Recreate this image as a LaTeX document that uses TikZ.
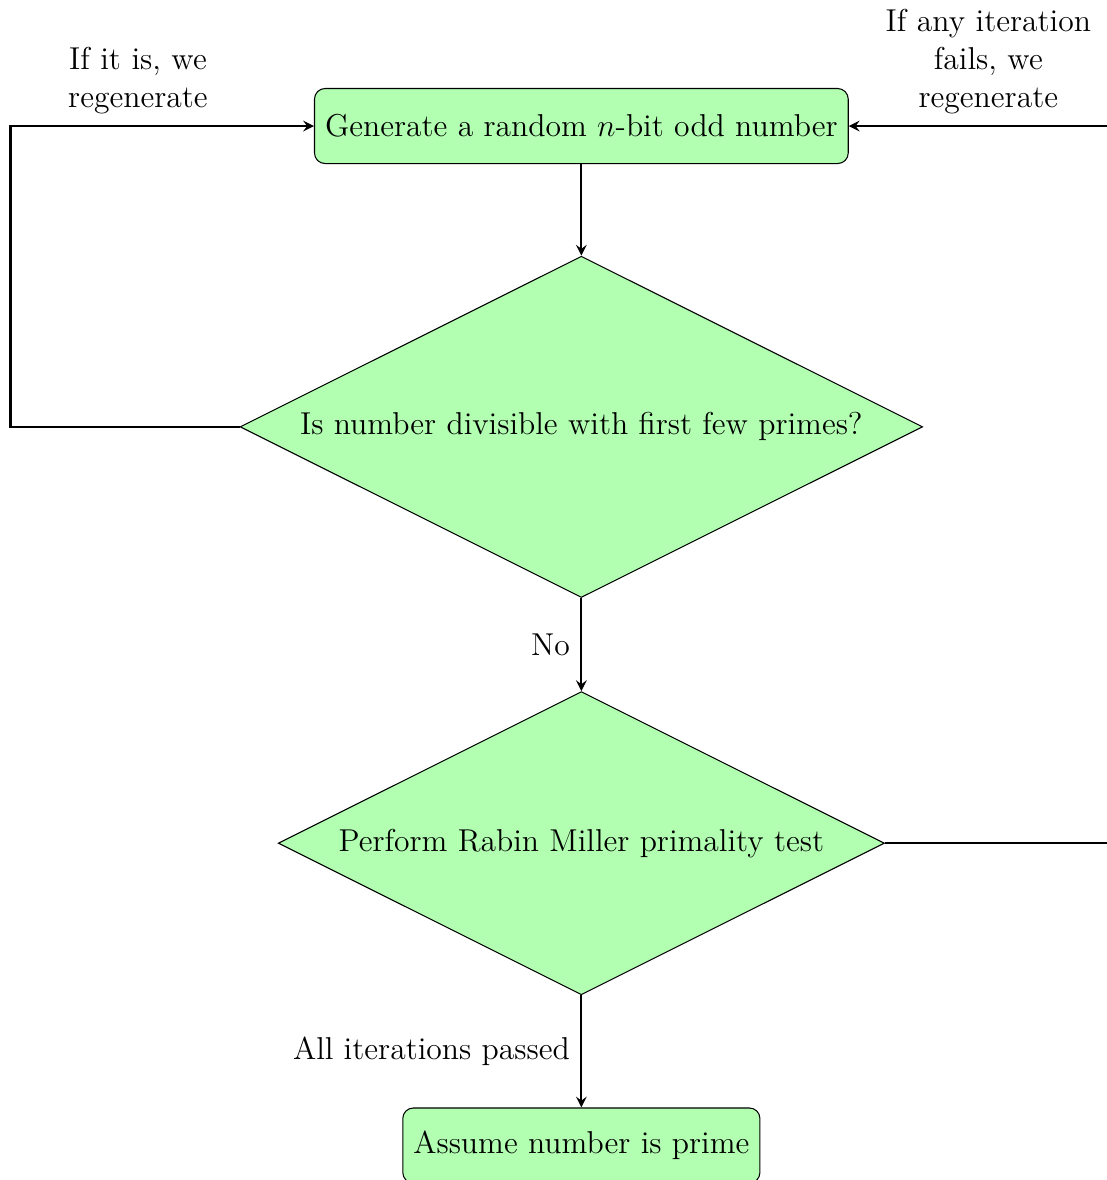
\documentclass[tikz,border=0pt,12pt]{standalone}
\usepackage{tikz}
\usetikzlibrary{arrows,positioning,shapes.geometric}
\usepackage{xcolor}
\definecolor{boxgreen}{rgb}{0.7,1,0.7}

\begin{document}
\begin{tikzpicture}[x=1cm,y=1cm,
  proc/.style={draw,rounded corners,fill=boxgreen,minimum height=1cm},
  decision/.style={draw,diamond,aspect=2,fill=boxgreen},
  flow/.style={thick,->,>=stealth},
  note/.style={text width=3cm,align=center}]
\useasboundingbox (-7.75,-14.05) rectangle (7.0,1.68);
\node[proc] (gen) at (0,0) {Generate a random $n$-bit odd number};
\node[decision] (div) at (0,-4.01) {Is number divisible with first few primes?};
\node[decision] (prime) at (0,-9.56) {Perform Rabin Miller primality test};
\node[proc] (done) at (0,-13.59) {Assume number is prime};
\coordinate (lcorner) at (-7.61,0);
\coordinate (rcorner) at (7.61,0);
\draw[flow] (gen) -- (div);
\draw[flow] (div) -- node[left] (no) {No} (prime);
\draw[flow] (prime) -- node[left] (pass) {All iterations passed} (done);
\draw[flow] (div.west) -| (lcorner) -- node[above,note,pos=0.42] (regen) {If it is, we regenerate} (gen);
\draw[flow] (prime.east) -| (rcorner) -- node[above,note,pos=0.54] (fail) {If any iteration fails, we regenerate} (gen);
\end{tikzpicture}
\end{document}
